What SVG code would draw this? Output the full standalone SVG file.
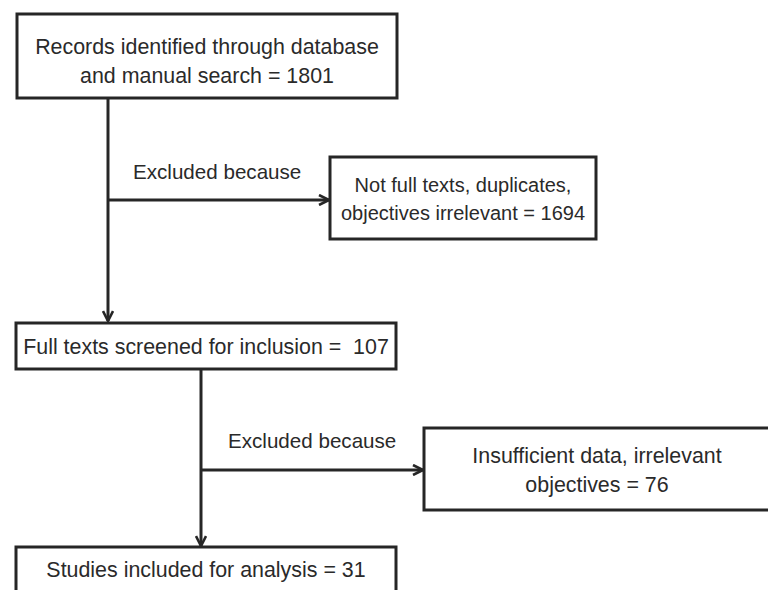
<svg xmlns="http://www.w3.org/2000/svg" width="768" height="590" viewBox="0 0 768 590">
<defs>
<style>
.box{fill:#fff;stroke:#262626;stroke-width:3}
.t{font-family:"Liberation Sans",Arial,sans-serif;font-size:21.4px;fill:#2a2a2a;text-anchor:middle}
.s{font-size:20px}
.l{font-family:"Liberation Sans",Arial,sans-serif;font-size:20.6px;fill:#2a2a2a}
.c{fill:none;stroke:#262626;stroke-width:3}
</style>
<marker id="ah" viewBox="0 0 12 12" refX="11" refY="6" markerWidth="12" markerHeight="12" markerUnits="userSpaceOnUse" orient="auto">
<path d="M1,1 L11,6 L1,11" fill="none" stroke="#262626" stroke-width="2.6"/>
</marker>
</defs>
<rect width="768" height="590" fill="#fff"/>
<g id="connectors">
<line class="c" x1="108" y1="98" x2="108" y2="321" marker-end="url(#ah)"/>
<line class="c" x1="108" y1="200" x2="329" y2="200" marker-end="url(#ah)"/>
<line class="c" x1="201" y1="369" x2="201" y2="546" marker-end="url(#ah)"/>
<line class="c" x1="201" y1="470" x2="423" y2="470" marker-end="url(#ah)"/>
<text class="l" x="133" y="179">Excluded because</text>
<text class="l" x="228" y="448">Excluded because</text>
</g>
<g id="n1">
<rect class="box" x="17" y="14" width="380" height="84"/>
<text class="t" x="207" y="54">Records identified through database</text>
<text class="t" x="207" y="83">and manual search = 1801</text>
</g>
<g id="n2">
<rect class="box" x="330" y="157" width="266" height="82"/>
<text class="t s" x="463" y="192">Not full texts, duplicates,</text>
<text class="t s" x="463" y="220">objectives irrelevant = 1694</text>
</g>
<g id="n3">
<rect class="box" x="16" y="323" width="380" height="46"/>
<text class="t" x="206" y="354" xml:space="preserve">Full texts screened for inclusion =  107</text>
</g>
<g id="n4">
<rect class="box" x="424" y="428" width="346" height="82"/>
<text class="t" x="597" y="463">Insufficient data, irrelevant</text>
<text class="t" x="597" y="492">objectives = 76</text>
</g>
<g id="n5">
<rect class="box" x="16" y="547" width="380" height="60"/>
<text class="t" x="206" y="577">Studies included for analysis = 31</text>
</g>
</svg>
